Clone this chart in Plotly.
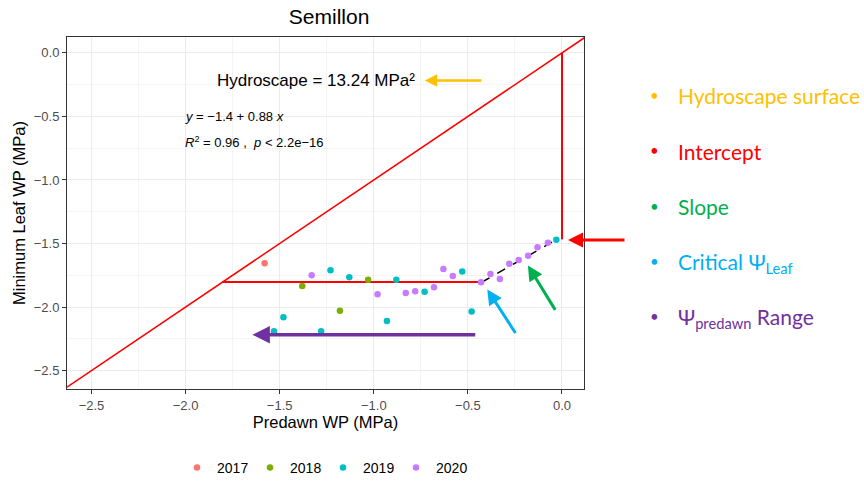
import plotly.graph_objects as go

# ---- data ----
years = ["2017", "2018", "2019", "2020"]
year_colors = ["#F8766D", "#7CAE00", "#00BFC4", "#C77CFF"]

x_2017 = [-1.58]
y_2017 = [-1.655]
x_2018 = [-1.38, -1.03, -1.18]
y_2018 = [-1.835, -1.785, -2.03]
x_2019 = [-1.53, -1.48, -1.28, -1.23, -1.13, -0.88, -0.93, -0.73, -0.53, -0.48, -0.03]
y_2019 = [-2.19, -2.08, -2.19, -1.71, -1.765, -1.785, -2.11, -1.88, -1.72, -2.035, -1.47]
x_2020 = [-1.33, -0.98, -0.83, -0.78, -0.68, -0.63, -0.58, -0.43, -0.38, -0.33, -0.28, -0.23, -0.18, -0.13, -0.075]
y_2020 = [-1.75, -1.90, -1.89, -1.875, -1.845, -1.70, -1.755, -1.805, -1.74, -1.78, -1.66, -1.63, -1.597, -1.53, -1.495]

xs = [x_2017, x_2018, x_2019, x_2020]
ys = [y_2017, y_2018, y_2019, y_2020]

# hydroscape geometry
diag_x = [-2.63, 0.12]
intercept_x = [0.0, 0.0]
intercept_y = [0.0, -1.468]
critical_x = [-1.803, -0.427]
critical_y = [-1.803, -1.803]
fit_x = [-0.427, -0.027]
fit_y = [-1.805, -1.468]

# arrows: (tip_x, tip_y, tail_x, tail_y, colour, width)
arrows = [
    (-0.729, -0.218, -0.42, -0.218, "#FFC000", 2.5),
    (-0.181, -1.673, -0.031, -2.034, "#00B050", 3),
    (-0.397, -1.862, -0.242, -2.216, "#00B0F0", 3),
    (-1.645, -2.218, -0.453, -2.218, "#7030A0", 3.5),
]

# side labels: (text, colour, text y, bullet y) in paper units
side_labels = [
    ("Hydroscape surface", "#FFC000", 0.8324, 0.8352),
    ("Intercept", "#FF0000", 0.6741, 0.6790),
    ("Slope", "#00B050", 0.5179, 0.5199),
    ("Critical Ψ<sub>Leaf</sub>", "#00B0F0", 0.3588, 0.3636),
    ("Ψ<sub>predawn</sub> Range", "#7030A0", 0.2017, 0.2074),
]

x_ticks = [-2.5, -2.0, -1.5, -1.0, -0.5, 0.0]
y_ticks = [0.0, -0.5, -1.0, -1.5, -2.0, -2.5]

fig = go.Figure()

fig.add_trace(go.Scatter(x=diag_x, y=diag_x, mode="lines",
                         line=dict(color="#FF0000", width=1.5), showlegend=False, hoverinfo="skip"))
fig.add_trace(go.Scatter(x=intercept_x, y=intercept_y, mode="lines",
                         line=dict(color="#FF0000", width=2), showlegend=False, hoverinfo="skip"))
fig.add_trace(go.Scatter(x=critical_x, y=critical_y, mode="lines",
                         line=dict(color="#FF0000", width=2), showlegend=False, hoverinfo="skip"))
fig.add_trace(go.Scatter(x=fit_x, y=fit_y, mode="lines",
                         line=dict(color="black", width=1.5, dash="dash"), showlegend=False, hoverinfo="skip"))

for yr, c, xv, yv in zip(years, year_colors, xs, ys):
    fig.add_trace(go.Scatter(x=xv, y=yv, mode="markers", name=yr,
                             marker=dict(color=c, size=6.5)))

font_main = "Liberation Sans, Arial, sans-serif"

annotations = []
for tx, ty, ax_, ay_, col, w in arrows:
    annotations.append(dict(x=tx, y=ty, ax=ax_, ay=ay_, xref="x", yref="y", axref="x", ayref="y",
                            text="", showarrow=True, arrowhead=2, arrowsize=1, arrowwidth=w,
                            arrowcolor=col))
annotations.append(dict(x=0.969, y=0.423, xref="paper", yref="paper", ax=58, ay=0,
                        text="", showarrow=True, arrowhead=2, arrowsize=1, arrowwidth=3,
                        arrowcolor="#FF0000"))

annotations.append(dict(x=-1.309, y=-0.215, xref="x", yref="y", text="Hydroscape = 13.24 MPa²",
                        showarrow=False, font=dict(family=font_main, size=17, color="black")))
annotations.append(dict(x=-2.016, y=-0.50, xref="x", yref="y", xanchor="left",
                        text="<i>y</i> = −1.4 + 0.88 <i>x</i>",
                        showarrow=False, font=dict(family=font_main, size=13, color="black")))
annotations.append(dict(x=-2.016, y=-0.705, xref="x", yref="y", xanchor="left",
                        text="<i>R</i><sup>2</sup> = 0.96 ,  <i>p</i> &lt; 2.2e−16",
                        showarrow=False, font=dict(family=font_main, size=13, color="black")))

for txt, col, yp, yb in side_labels:
    annotations.append(dict(x=1.1354, y=yb, xref="paper", yref="paper", text="•",
                            xanchor="center", yanchor="middle",
                            showarrow=False, font=dict(family="Lato", size=15, color=col)))
    annotations.append(dict(x=1.178, y=yp, xref="paper", yref="paper", xanchor="left",
                            yanchor="middle", text=txt, showarrow=False,
                            font=dict(family="Lato", size=21, color=col)))

axis_common = dict(
    showgrid=True, gridcolor="#EBEBEB", gridwidth=1,
    zeroline=False, showline=True, linecolor="#333333", linewidth=1, mirror=True,
    ticks="outside", ticklen=4, tickcolor="#333333",
    tickfont=dict(family=font_main, size=13, color="#4D4D4D"),
    minor=dict(showgrid=True, gridcolor="#F4F4F4", gridwidth=0.8, dtick=0.25),
)

fig.update_layout(
    width=864, height=481,
    margin=dict(l=67, r=280, t=37, b=92),
    paper_bgcolor="white", plot_bgcolor="white",
    title=dict(text="Semillon", x=0.507, xref="paper", xanchor="center", y=0.9647, yref="container",
               yanchor="middle", font=dict(family=font_main, size=21, color="black")),
    xaxis=dict(range=[-2.63, 0.117], tickvals=x_ticks, ticktext=[f"{v:.1f}".replace("-", "−") for v in x_ticks],
               title=dict(text="Predawn WP (MPa)", font=dict(family=font_main, size=16.5, color="black"), standoff=4),
               **axis_common),
    yaxis=dict(range=[-2.645, 0.125],
               tickvals=y_ticks, ticktext=[f"{v:.1f}".replace("-", "−") for v in y_ticks],
               title=dict(text="Minimum Leaf WP (MPa)", font=dict(family=font_main, size=16.5, color="black"), standoff=3),
               **axis_common),
    legend=dict(orientation="h", x=0.2128, xanchor="left", y=0.027, yref="container", yanchor="middle",
                font=dict(family=font_main, size=14, color="black"),
                entrywidth=28, entrywidthmode="pixels"),
    annotations=annotations,
)

fig.write_html("out.html", config={"displayModeBar": False},
               post_script="document.body.style.margin='0px';")
